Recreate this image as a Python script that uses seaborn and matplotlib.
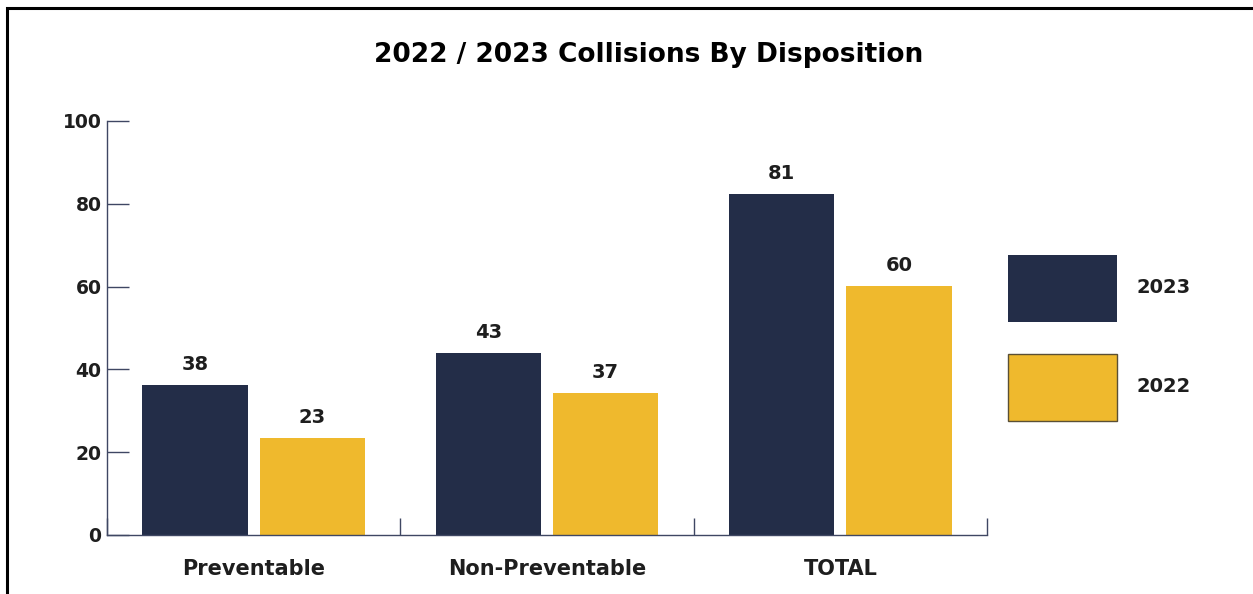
import matplotlib
matplotlib.use("Agg")
import matplotlib.pyplot as plt
import seaborn as sns
import pandas as pd
from matplotlib.patches import Patch, Rectangle

categories = ["Preventable", "Non-Preventable", "TOTAL"]
years = ["2023", "2022"]
values_2023 = [36.2, 44.0, 82.3]
values_2022 = [23.4, 34.3, 60.1]
labels_2023 = ["38", "43", "81"]
labels_2022 = ["23", "37", "60"]
yticks = [0, 20, 40, 60, 80, 100]

NAVY = "#232d48"
GOLD = "#efb92d"
SPINE = "#3f4763"

df = pd.DataFrame({
    "category": categories * 2,
    "year": [years[0]] * 3 + [years[1]] * 3,
    "value": values_2023 + values_2022,
})

sns.set_theme(style="white")
plt.rcParams["font.family"] = ["DejaVu Sans"]

fig = plt.figure(figsize=(12.53, 5.94), dpi=100)
ax = fig.add_axes([107 / 1253, 1 - 535 / 594, (987 - 107) / 1253, (535 - 121) / 594])

sns.barplot(data=df, x="category", y="value", hue="year", hue_order=years,
            order=categories, palette=[NAVY, GOLD], width=0.8, gap=0.1,
            saturation=1, ax=ax, legend=False, linewidth=0)

ax.set_xlim(-0.5, 2.5)
ax.set_ylim(0, 100)
ax.set_yticks(yticks)
ax.set_yticklabels([str(t) for t in yticks])
ax.set_xlabel("")
ax.set_ylabel("")

for s in ["top", "right"]:
    ax.spines[s].set_visible(False)
for s in ["left", "bottom"]:
    ax.spines[s].set_color(SPINE)
    ax.spines[s].set_linewidth(1.0)

ax.tick_params(axis="y", direction="in", length=16, width=1.0, color=SPINE,
               labelsize=13.5, pad=4, left=True)
ax.tick_params(axis="x", which="major", length=0, labelsize=15, pad=17)
ax.set_xticks([-0.5, 0.5, 1.5, 2.5], minor=True)
ax.tick_params(axis="x", which="minor", direction="in", length=12, width=1.0,
               color=SPINE, bottom=True)
for lab in ax.get_xticklabels() + ax.get_yticklabels():
    lab.set_fontweight("bold")
    lab.set_color("#1e1e1e")

for cont, labs in zip(ax.containers, [labels_2023, labels_2022]):
    ax.bar_label(cont, labels=labs, padding=8, fontsize=14,
                 fontweight="bold", color="#1e1e1e")

fig.text(0.5175, 1 - 55 / 594, "2022 / 2023 Collisions By Disposition",
         ha="center", va="center", fontsize=19, fontweight="bold", color="black")

handles = [Patch(facecolor=NAVY, edgecolor=NAVY, linewidth=0),
           Patch(facecolor=GOLD, edgecolor="#5a4f35", linewidth=1.0)]
leg = fig.legend(handles, years, loc="upper left",
                 bbox_to_anchor=(1008 / 1253, 1 - 255 / 594),
                 frameon=False, fontsize=14, handlelength=5.6, handleheight=4.92,
                 labelspacing=1.66, handletextpad=1.0, borderpad=0,
                 borderaxespad=0)
for t in leg.get_texts():
    t.set_fontweight("bold")
    t.set_color("#1e1e1e")

fig.patches.append(Rectangle((7 / 1253, -0.2), 1.2, 1.2 - 8 / 594,
                             transform=fig.transFigure, fill=False,
                             edgecolor="black", linewidth=2.2))

fig.savefig("out.png", dpi=100)
